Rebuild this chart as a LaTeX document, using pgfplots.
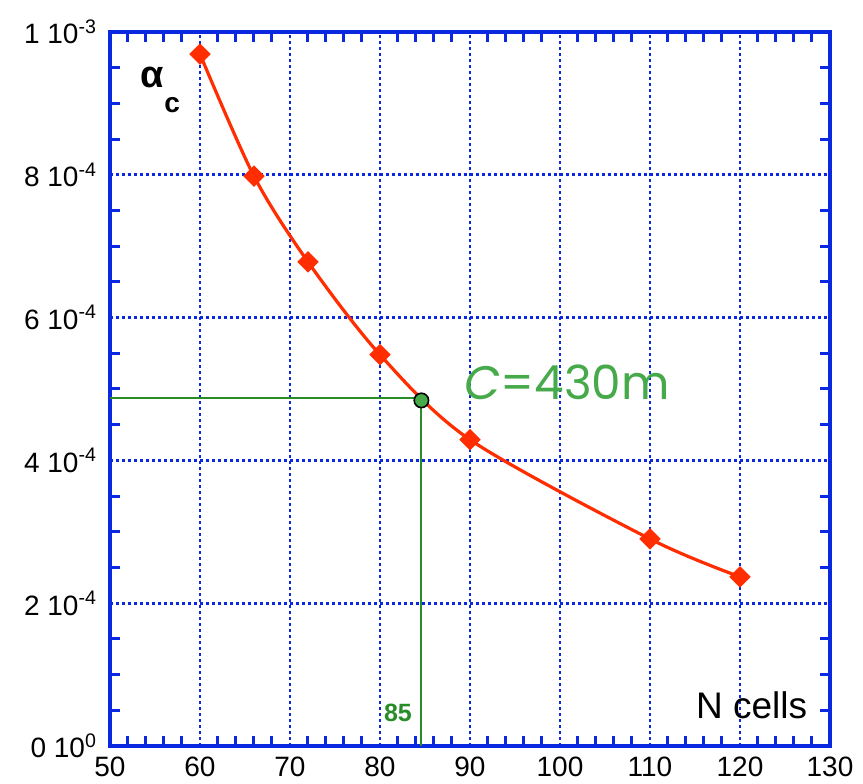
\documentclass[border=0pt]{standalone}
\usepackage{pgfplots}
\pgfplotsset{compat=1.18}
\usepackage{fontspec}
\setmainfont{Liberation Sans}
\newfontfamily\comicfont{Poppins}
\definecolor{axblue}{RGB}{10,40,225}
\definecolor{curvered}{RGB}{255,45,0}
\definecolor{lgreen}{RGB}{40,140,40}
\definecolor{tgreen}{RGB}{70,170,75}
\begin{document}
\begin{tikzpicture}
\path (-55pt,-17.5pt) rectangle (376.5pt,373pt);
\begin{axis}[
  at={(0pt,0pt)}, anchor=south west,
  scale only axis, width=360pt, height=357pt,
  xmin=50, xmax=130, ymin=0, ymax=0.001,
  xtick={50,60,...,130},
  ytick={0,0.0002,0.0004,0.0006,0.0008,0.001},
  yticklabels={0 10\textsuperscript{0},2 10\textsuperscript{-4},4 10\textsuperscript{-4},6 10\textsuperscript{-4},8 10\textsuperscript{-4},1 10\textsuperscript{-3}},
  scaled y ticks=false,
  minor x tick num=4, minor y tick num=3,
  /pgf/number format/assume math mode=true,
  tick label style={font=\fontsize{14}{16}\selectfont, text=black},
  xticklabel style={yshift=-2pt},
  yticklabel style={xshift=-3pt},
  axis line style={axblue, line width=1.7pt},
  tick style={axblue, line width=1.5pt},
  major tick length=0pt, minor tick length=5pt,
  tick align=inside,
  grid=major,
  major grid style={axblue, line width=1.4pt, dash pattern=on 1.5pt off 1.5pt},
  clip=false,
]
\addplot[lgreen, line width=1.1pt] coordinates {(50,0.000487) (84.6,0.000487) (84.6,0)};
\addplot[curvered, line width=1.6pt, smooth, tension=0.5, mark=square*, mark size=3pt, mark options={rotate=45, solid}] coordinates {
(60,0.000969) (66,0.000798) (72,0.000678) (80,0.000548) (90,0.000429) (110,0.000290) (120,0.000237)};
\addplot[only marks, mark=*, mark size=3.6pt, mark options={fill=tgreen, draw=black, line width=0.8pt}] coordinates {(84.6,0.000484)};
\node[font=\bfseries\fontsize{19}{20}\selectfont] at (axis cs:54.7,0.000936) {α};
\node[font=\bfseries\fontsize{14}{15}\selectfont] at (axis cs:56.9,0.000898) {c};
\node[font=\fontsize{18.5}{20}\selectfont] at (axis cs:121.3,0.0000574) {N cells};
\node[font=\bfseries\fontsize{12.5}{14}\selectfont, text=lgreen] at (axis cs:82.0,0.000046) {85};
\node[font=\comicfont\fontsize{23.5}{26}\selectfont, text=tgreen] at (axis cs:100.8,0.000510) {\textit{C}=430m};
\end{axis}
\end{tikzpicture}
\end{document}
